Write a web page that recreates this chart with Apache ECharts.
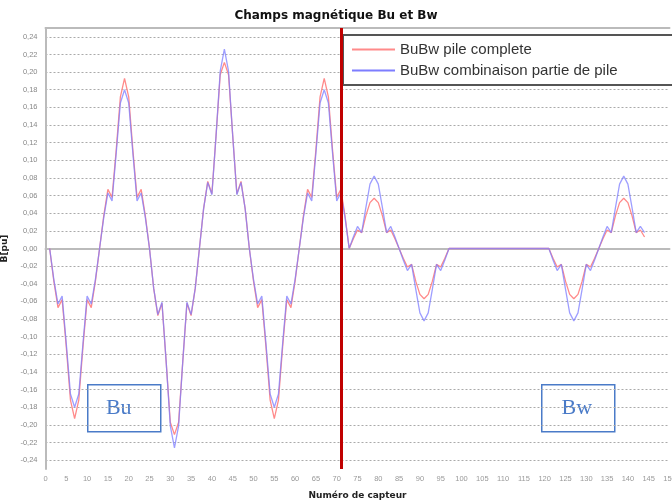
<!DOCTYPE html>
<html>
<head>
<meta charset="utf-8">
<title>Champs magnétique Bu et Bw</title>
<script src="https://cdn.jsdelivr.net/npm/echarts@6/dist/echarts.min.js"></script>
<style>
  html, body { margin: 0; padding: 0; background: #fff; }
  #chart { width: 672px; height: 500px; }
</style>
</head>
<body>
<div id="chart"></div>
<script>
// valeurs, capteurs 1 a 144
const pileComplete = [
  0, -0.037, -0.067, -0.058, -0.112, -0.172, -0.193, -0.172, -0.112, -0.058, -0.067, -0.037,
  0, 0.037, 0.067, 0.058, 0.112, 0.172, 0.193, 0.172, 0.112, 0.058, 0.067, 0.037,
  0, -0.045, -0.076, -0.062, -0.128, -0.197, -0.211, -0.197, -0.128, -0.062, -0.076, -0.045,
  0, 0.045, 0.076, 0.062, 0.128, 0.197, 0.211, 0.197, 0.128, 0.062, 0.076, 0.045,
  0, -0.037, -0.067, -0.058, -0.112, -0.172, -0.193, -0.172, -0.112, -0.058, -0.067, -0.037,
  0, 0.037, 0.067, 0.058, 0.112, 0.172, 0.193, 0.172, 0.112, 0.058, 0.067, 0.037,
  0, 0.011, 0.021, 0.018, 0.037, 0.052, 0.057, 0.052, 0.037, 0.018, 0.021, 0.011,
  0, -0.011, -0.021, -0.018, -0.037, -0.052, -0.057, -0.052, -0.037, -0.018, -0.021, -0.011,
  0, 0, 0, 0, 0, 0, 0, 0, 0, 0, 0, 0,
  0, 0, 0, 0, 0, 0, 0, 0, 0, 0, 0, 0,
  0, -0.011, -0.021, -0.018, -0.037, -0.052, -0.057, -0.052, -0.037, -0.018, -0.021, -0.011,
  0, 0.011, 0.021, 0.018, 0.037, 0.052, 0.057, 0.052, 0.037, 0.018, 0.021, 0.013
];

const combinaison = [
  0, -0.035, -0.063, -0.054, -0.108, -0.165, -0.180, -0.165, -0.108, -0.054, -0.063, -0.035,
  0, 0.035, 0.063, 0.054, 0.108, 0.165, 0.180, 0.165, 0.108, 0.054, 0.063, 0.035,
  0, -0.045, -0.075, -0.061, -0.128, -0.201, -0.226, -0.201, -0.128, -0.061, -0.075, -0.045,
  0, 0.045, 0.075, 0.061, 0.128, 0.201, 0.226, 0.201, 0.128, 0.061, 0.075, 0.045,
  0, -0.035, -0.063, -0.054, -0.108, -0.165, -0.180, -0.165, -0.108, -0.054, -0.063, -0.035,
  0, 0.035, 0.063, 0.054, 0.108, 0.165, 0.180, 0.165, 0.108, 0.054, 0.063, 0.035,
  0, 0.013, 0.025, 0.018, 0.046, 0.073, 0.082, 0.073, 0.046, 0.018, 0.025, 0.013,
  0, -0.013, -0.025, -0.018, -0.046, -0.073, -0.082, -0.073, -0.046, -0.018, -0.025, -0.013,
  0, 0, 0, 0, 0, 0, 0, 0, 0, 0, 0, 0,
  0, 0, 0, 0, 0, 0, 0, 0, 0, 0, 0, 0,
  0, -0.013, -0.025, -0.018, -0.046, -0.073, -0.082, -0.073, -0.046, -0.018, -0.025, -0.013,
  0, 0.013, 0.025, 0.018, 0.046, 0.073, 0.082, 0.073, 0.046, 0.018, 0.025, 0.018
];

const seriesNames = ['BuBw pile complete', 'BuBw combinaison partie de pile'];
const separation = 71.2; // limite Bu / Bw

const chart = echarts.init(document.getElementById('chart'));

const boxStyle = { fill: '#fff', stroke: '#4a7bc8', lineWidth: 1.5 };
const boxText = { fill: '#4a7bc8', fontSize: 22, fontFamily: 'Liberation Serif' };

const option = {
  animation: false,
  title: {
    text: 'Champs magnétique Bu et Bw',
    left: 'center',
    top: 5,
    textStyle: { fontSize: 12, fontWeight: 'bold', color: '#111', fontFamily: 'DejaVu Sans' }
  },
  legend: {
    data: seriesNames,
    orient: 'vertical',
    left: 343,
    top: 35,
    padding: [7, 60, 7, 9],
    icon: 'rect',
    itemWidth: 43,
    itemHeight: 2,
    itemGap: 6,
    backgroundColor: '#fff',
    borderColor: '#555',
    borderWidth: 2,
    textStyle: { fontSize: 15, color: '#333', fontFamily: 'Liberation Sans' }
  },
  grid: { left: 45.5, right: 2.5, top: 28, bottom: 31, outerBoundsMode: 'none' },
  xAxis: [
    {
      type: 'value',
      min: 0,
      max: 150,
      interval: 5,
      name: 'Numéro de capteur',
      nameLocation: 'middle',
      nameGap: 22,
      nameTextStyle: { fontSize: 9, fontWeight: 'bold', color: '#222', fontFamily: 'DejaVu Sans' },
      axisLine: { lineStyle: { color: '#bbb', width: 2 } },
      axisTick: { show: false },
      axisLabel: { fontSize: 7.5, color: '#999', margin: 6, fontFamily: 'Liberation Sans' },
      splitLine: { show: false }
    },
    {
      type: 'value',
      position: 'top',
      min: 0,
      max: 150,
      axisLine: { lineStyle: { color: '#bbb', width: 2 } },
      axisTick: { show: false },
      axisLabel: { show: false },
      splitLine: { show: false }
    }
  ],
  yAxis: {
    type: 'value',
    min: -0.25,
    max: 0.25,
    interval: 0.01,
    name: 'B[pu]',
    nameLocation: 'middle',
    nameGap: 34,
    nameTextStyle: { fontSize: 9, fontWeight: 'bold', color: '#222', fontFamily: 'DejaVu Sans' },
    axisLine: { show: true, lineStyle: { color: '#bbb', width: 2 } },
    axisTick: { show: false },
    axisLabel: {
      fontSize: 7.5,
      color: '#888',
      margin: 8,
      fontFamily: 'Liberation Sans',
      formatter: v => {
        const c = Math.round(v * 100);
        if (c % 2 !== 0) return '';
        return (c / 100).toFixed(2).replace('.', ',');
      }
    },
    // une ligne sur deux (tous les 0,02)
    splitLine: { show: true, lineStyle: { color: ['rgba(0,0,0,0)', '#aaa'], type: [2, 2], width: 1 } }
  },
  series: [
    {
      name: seriesNames[0],
      type: 'line',
      symbol: 'none',
      color: '#ff8a8a',
      lineStyle: { width: 1.3 },
      data: pileComplete.map((v, i) => [i + 1, v]),
      markLine: {
        silent: true,
        symbol: ['none', 'none'],
        label: { show: false },
        lineStyle: { color: '#c00000', width: 3, type: 'solid' },
        data: [{ xAxis: separation }]
      }
    },
    {
      name: seriesNames[1],
      type: 'line',
      symbol: 'none',
      color: '#7d7dff',
      lineStyle: { width: 1.3, opacity: 0.75 },
      data: combinaison.map((v, i) => [i + 1, v])
    }
  ],
  graphic: [
    {
      type: 'group', left: 87, top: 384,
      children: [
        { type: 'rect', shape: { x: 0, y: 0, width: 73, height: 47 }, style: boxStyle },
        { type: 'text', x: 31, y: 23.5, style: Object.assign({ text: 'Bu', align: 'center', verticalAlign: 'middle' }, boxText) }
      ]
    },
    {
      type: 'group', left: 541, top: 384,
      children: [
        { type: 'rect', shape: { x: 0, y: 0, width: 73, height: 47 }, style: boxStyle },
        { type: 'text', x: 35, y: 23.5, style: Object.assign({ text: 'Bw', align: 'center', verticalAlign: 'middle' }, boxText) }
      ]
    }
  ]
};

chart.setOption(option);
</script>
</body>
</html>
